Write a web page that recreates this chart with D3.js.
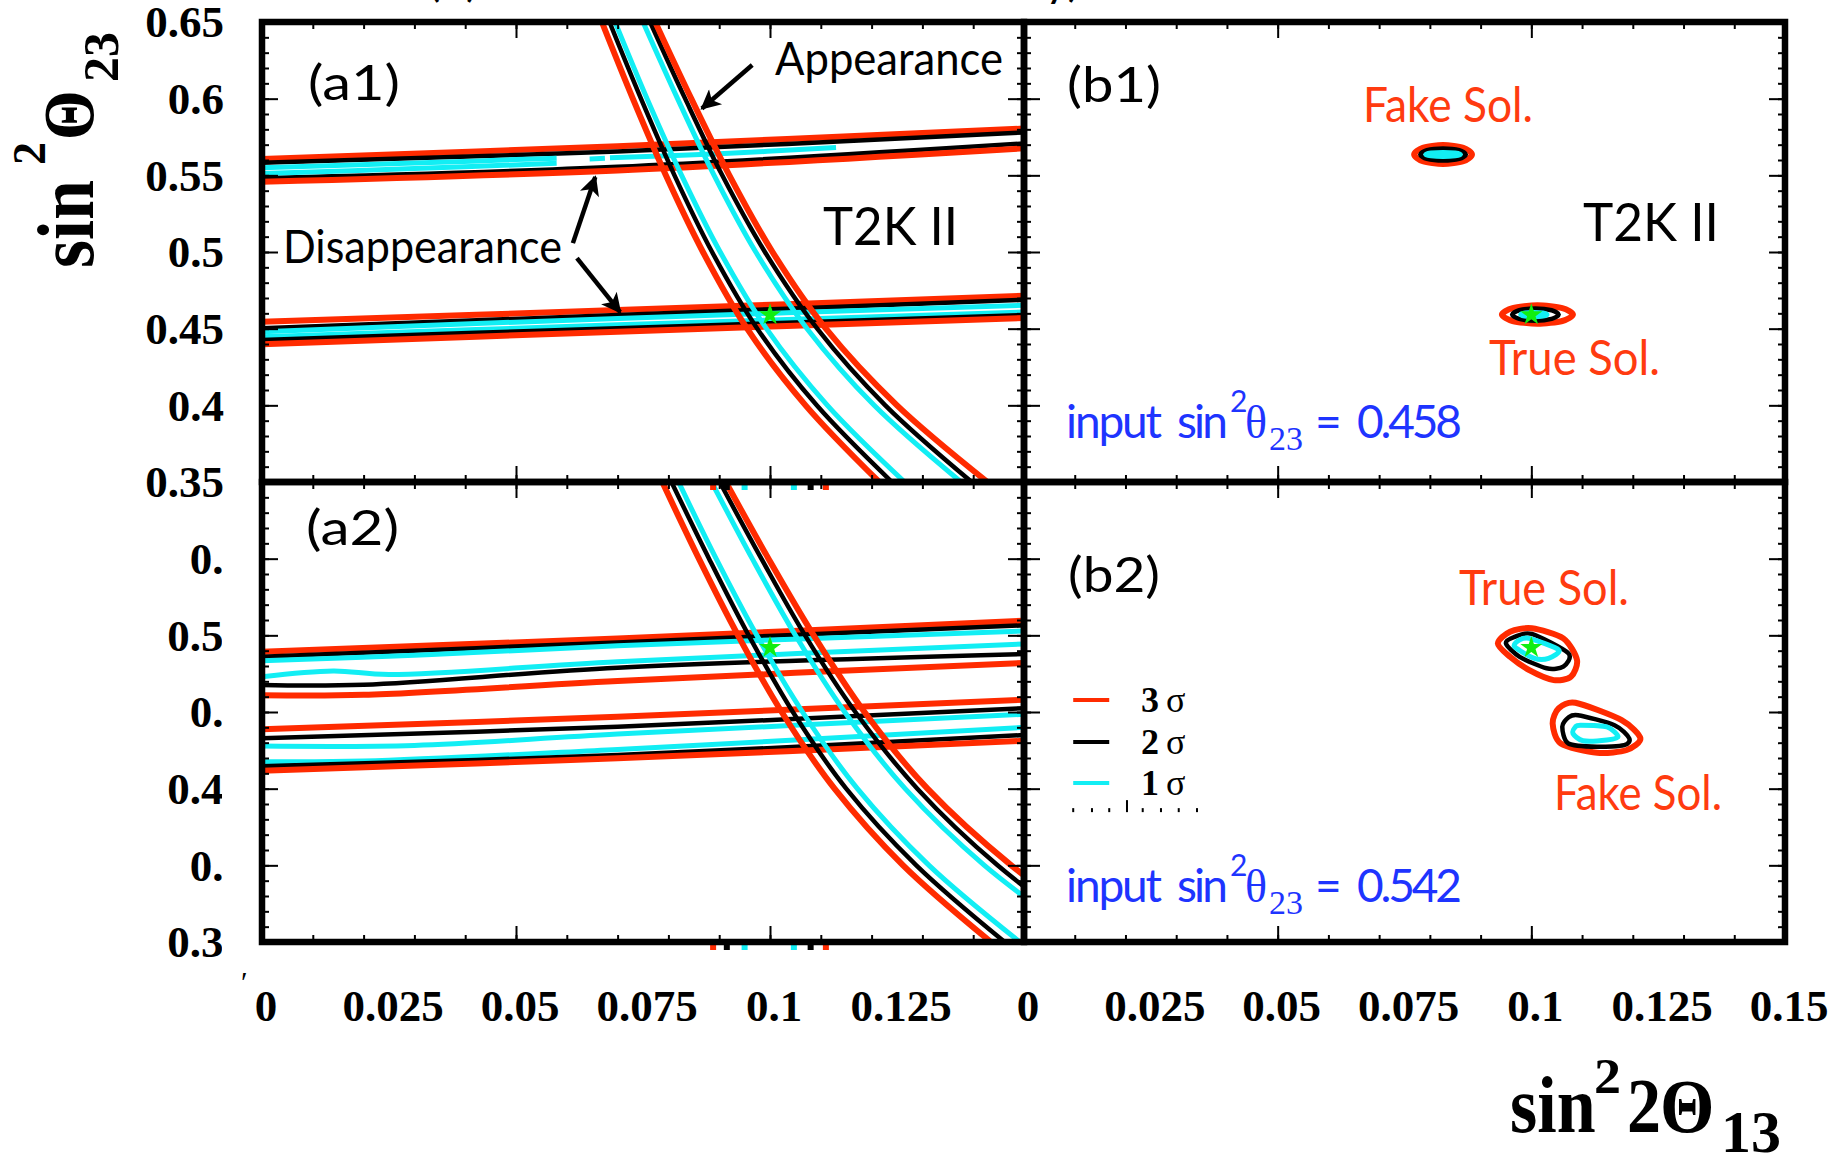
<!DOCTYPE html>
<html>
<head>
<meta charset="utf-8">
<script src="https://cdn.jsdelivr.net/npm/d3@7"></script>
<style>
body { margin: 0; background: #fff; }
svg { display: block; }
</style>
</head>
<body>
<svg id="chart" width="1846" height="1161"></svg>
<script>
// ---------- data ----------
const xTickValues = [0, 0.025, 0.05, 0.075, 0.1, 0.125, 0.15];
const xTickLabels = ['0', '0.025', '0.05', '0.075', '0.1', '0.125', '0.15'];
const yTickValues = [0.35, 0.4, 0.45, 0.5, 0.55, 0.6, 0.65];
const yTickLabels = ['0.35', '0.4', '0.45', '0.5', '0.55', '0.6', '0.65'];
const legendLevels = [3, 2, 1];
const legendNames = ['3', '2', '1'];

// appearance bands are read at fixed sin^2(theta23) rows
const appearanceY = [0.65, 0.60, 0.55, 0.50, 0.45, 0.40, 0.35];

// (a1) appearance, x positions for each row
const a1App = [
  {lvl: 3, xs: [0.0669, 0.0730, 0.0795, 0.0868, 0.0955, 0.1070, 0.1215]},
  {lvl: 2, xs: [0.0684, 0.0746, 0.0812, 0.0886, 0.0975, 0.1092, 0.1240]},
  {lvl: 1, xs: [0.0695, 0.0758, 0.0826, 0.0902, 0.0993, 0.1113, 0.1265]},
  {lvl: 1, xs: [0.0750, 0.0818, 0.0890, 0.0972, 0.1073, 0.1205, 0.1376]},
  {lvl: 2, xs: [0.0764, 0.0833, 0.0906, 0.0990, 0.1093, 0.1227, 0.1397]},
  {lvl: 3, xs: [0.0774, 0.0845, 0.0920, 0.1005, 0.1110, 0.1250, 0.1428]}
];

// (a2) appearance
const a2App = [
  {lvl: 3, xs: [0.0788, 0.0860, 0.0937, 0.1023, 0.1127, 0.1262, 0.1435]},
  {lvl: 2, xs: [0.0806, 0.0880, 0.0958, 0.1045, 0.1150, 0.1288, 0.1462]},
  {lvl: 1, xs: [0.0820, 0.0894, 0.0974, 0.1064, 0.1172, 0.1313, 0.1492]},
  {lvl: 1, xs: [0.0885, 0.0965, 0.1050, 0.1147, 0.1266, 0.1422, 0.1624]},
  {lvl: 2, xs: [0.0901, 0.0983, 0.1069, 0.1168, 0.1290, 0.1448, 0.1648]},
  {lvl: 3, xs: [0.0913, 0.0997, 0.1086, 0.1186, 0.1310, 0.1475, 0.1685]}
];

// (a1) disappearance bands
const a1Dis = [
  {lvl: 3, pts: [[0, 0.5606], [0.07, 0.5690], [0.15, 0.5805]]},
  {lvl: 2, pts: [[0, 0.5582], [0.07, 0.5656], [0.15, 0.5780]]},
  {lvl: 2, pts: [[0, 0.5482], [0.07, 0.5556], [0.15, 0.5708]]},
  {lvl: 3, pts: [[0, 0.5458], [0.07, 0.5532], [0.15, 0.5676]]},
  {lvl: 1, pts: [[0, 0.5550], [0.03, 0.5580], [0.058, 0.5612]]},
  {lvl: 1, pts: [[0, 0.5512], [0.03, 0.5544], [0.058, 0.5578]]},
  {lvl: 1, pts: [[0.0645, 0.5607], [0.0675, 0.5611]]},
  {lvl: 1, pts: [[0.0685, 0.5614], [0.09, 0.5640], [0.113, 0.5682]]},
  {lvl: 3, pts: [[0, 0.4545], [0.07, 0.4621], [0.15, 0.4715]]},
  {lvl: 2, pts: [[0, 0.4502], [0.07, 0.4589], [0.15, 0.4688]]},
  {lvl: 1, pts: [[0, 0.4480], [0.07, 0.4567], [0.15, 0.4652]]},
  {lvl: 1, pts: [[0, 0.4447], [0.07, 0.4525], [0.15, 0.4608]]},
  {lvl: 2, pts: [[0, 0.4426], [0.07, 0.4503], [0.15, 0.4588]]},
  {lvl: 3, pts: [[0, 0.4398], [0.07, 0.4480], [0.15, 0.4569]]}
];

// (a2) disappearance bands
const a2Dis = [
  {lvl: 3, pts: [[0, 0.5393], [0.07, 0.5480], [0.15, 0.5595]]},
  {lvl: 2, pts: [[0, 0.5360], [0.07, 0.5454], [0.15, 0.5565]]},
  {lvl: 1, pts: [[0, 0.5334], [0.03, 0.5370], [0.07, 0.5432], [0.15, 0.5528]]},
  {lvl: 1, pts: [[0, 0.5230], [0.014, 0.5268], [0.025, 0.5245], [0.07, 0.5328], [0.15, 0.5444]]},
  {lvl: 2, pts: [[0, 0.5176], [0.02, 0.5178], [0.07, 0.5289], [0.15, 0.5378]]},
  {lvl: 3, pts: [[0, 0.5110], [0.02, 0.5112], [0.07, 0.5202], [0.15, 0.5320]]},
  {lvl: 3, pts: [[0, 0.4887], [0.07, 0.4969], [0.15, 0.5080]]},
  {lvl: 2, pts: [[0, 0.4828], [0.07, 0.4904], [0.15, 0.5025]]},
  {lvl: 1, pts: [[0, 0.4778], [0.03, 0.4782], [0.07, 0.4856], [0.15, 0.4985]]},
  {lvl: 1, pts: [[0, 0.4676], [0.02, 0.4680], [0.07, 0.4756], [0.15, 0.4900]]},
  {lvl: 2, pts: [[0, 0.4647], [0.07, 0.4719], [0.15, 0.4850]]},
  {lvl: 3, pts: [[0, 0.4617], [0.07, 0.4698], [0.15, 0.4812]]}
];

// (b1) closed contours: fake and true solutions
const b1Fake = [
  {lvl: 3, pts: [[0.0769, 0.5636], [0.0786, 0.5680], [0.0826, 0.5698], [0.0866, 0.5680], [0.0883, 0.5636], [0.0866, 0.5592], [0.0826, 0.5574], [0.0786, 0.5592]]},
  {lvl: 2, pts: [[0.0781, 0.5636], [0.0794, 0.5664], [0.0826, 0.5675], [0.0858, 0.5664], [0.0871, 0.5636], [0.0858, 0.5608], [0.0826, 0.5597], [0.0794, 0.5608]]},
  {lvl: 1, pts: [[0.0792, 0.5636], [0.0802, 0.5645], [0.0826, 0.5649], [0.0850, 0.5645], [0.0860, 0.5636], [0.0850, 0.5627], [0.0826, 0.5623], [0.0802, 0.5627]]}
];
const b1True = [
  {lvl: 3, pts: [[0.0942, 0.4592], [0.0963, 0.4634], [0.1012, 0.4652], [0.1061, 0.4634], [0.1082, 0.4592], [0.1061, 0.4550], [0.1012, 0.4532], [0.0963, 0.4550]]},
  {lvl: 2, pts: [[0.0962, 0.4592], [0.0976, 0.4620], [0.1008, 0.4632], [0.1040, 0.4620], [0.1054, 0.4592], [0.1040, 0.4564], [0.1008, 0.4552], [0.0976, 0.4564]]},
  {lvl: 1, pts: [[0.0979, 0.4592], [0.0987, 0.4602], [0.1005, 0.4606], [0.1023, 0.4602], [0.1031, 0.4592], [0.1023, 0.4582], [0.1005, 0.4578], [0.0987, 0.4582]]}
];

// (b2) closed contours
const b2True = [
  {lvl: 3, pts: [[0.1001, 0.5546], [0.1063, 0.5480], [0.1090, 0.5339], [0.1078, 0.5230], [0.1044, 0.5208], [0.0996, 0.5273], [0.0958, 0.5360], [0.0934, 0.5447], [0.0958, 0.5524]]},
  {lvl: 2, pts: [[0.1001, 0.5509], [0.1073, 0.5383], [0.1063, 0.5296], [0.1030, 0.5285], [0.0977, 0.5360], [0.0950, 0.5447], [0.0967, 0.5490]]},
  {lvl: 1, pts: [[0.0996, 0.5480], [0.1054, 0.5405], [0.1034, 0.5350], [0.1006, 0.5350], [0.0967, 0.5426], [0.0977, 0.5470]]}
];
const b2Fake = [
  {lvl: 3, pts: [[0.1087, 0.5060], [0.1178, 0.4947], [0.1215, 0.4828], [0.1188, 0.4752], [0.1130, 0.4734], [0.1058, 0.4795], [0.1042, 0.4926], [0.1054, 0.5024]]},
  {lvl: 2, pts: [[0.1092, 0.4979], [0.1164, 0.4914], [0.1193, 0.4828], [0.1183, 0.4784], [0.1130, 0.4773], [0.1073, 0.4795], [0.1061, 0.4904], [0.1073, 0.4964]]},
  {lvl: 1, pts: [[0.1097, 0.4914], [0.1149, 0.4903], [0.1171, 0.4838], [0.1149, 0.4817], [0.1102, 0.4812], [0.1082, 0.4860], [0.1087, 0.4903]]}
];

// input points (green stars)
const starA1 = [0.1, 0.459];
const starA2 = [0.1, 0.542];
const starB1 = [0.1, 0.459];
const starB2 = [0.1, 0.542];

// small coloured marks sitting on the frame of (a2)
const frameMarkX = [0.0888, 0.0915, 0.0950, 0.1047, 0.1080, 0.1110];
const frameMarkLvl = [3, 2, 1, 1, 2, 3];

// legend rows (b2) and the dotted row under it
const legendLineX = [0.0097, 0.0168];
const legendRowY = [0.5078, 0.4804, 0.4537];
const legendDotX = [0.0097, 0.0134, 0.0168, 0.0203, 0.0234, 0.0270, 0.0305, 0.0341];
const legendDotY = 0.436;

// arrows in (a1): [from, to]
const arrows = [
  [[0.0965, 0.622], [0.0866, 0.5936]],
  [[0.0612, 0.5058], [0.0656, 0.5489]],
  [[0.0620, 0.4960], [0.0705, 0.4608]]
];

// ---------- drawing ----------
const colorOf = {3: '#ff2b00', 2: '#000000', 1: '#12eef4'};
const widthOf = {3: 6, 2: 4.5, 1: 5};
const serif = '"Liberation Serif", "DejaVu Serif", serif';
const sans = 'Lato, "Open Sans", sans-serif';

const svg = d3.select('#chart');
const defs = svg.append('defs');

const L = 262, M = 1024, R = 1785, T = 22, C = 482, B = 942;
const panels = [
  {name: 'a1', left: L, right: M, top: T, bottom: C},
  {name: 'b1', left: M, right: R, top: T, bottom: C},
  {name: 'a2', left: L, right: M, top: C, bottom: B},
  {name: 'b2', left: M, right: R, top: C, bottom: B}
];
panels.forEach(p => {
  p.x = d3.scaleLinear().domain([0, 0.15]).range([p.left, p.right]);
  p.y = d3.scaleLinear().domain([0.35, 0.65]).range([p.bottom, p.top]);
  defs.append('clipPath').attr('id', 'clip-' + p.name)
    .append('rect')
    .attr('x', p.left).attr('y', p.top)
    .attr('width', p.right - p.left).attr('height', p.bottom - p.top);
  p.g = svg.append('g').attr('clip-path', `url(#clip-${p.name})`);
});
const [pA1, pB1, pA2, pB2] = panels;

defs.append('marker')
  .attr('id', 'head')
  .attr('viewBox', '0 0 10 10')
  .attr('refX', 9).attr('refY', 5)
  .attr('markerUnits', 'userSpaceOnUse')
  .attr('markerWidth', 24).attr('markerHeight', 20)
  .attr('orient', 'auto')
  .append('path').attr('d', 'M0,0 L10,5 L0,10 L2.5,5 Z').attr('fill', '#000');

function drawOpen(p, lines) {
  const line = d3.line().x(d => p.x(d[0])).y(d => p.y(d[1])).curve(d3.curveCatmullRom.alpha(0.5));
  lines.forEach(l => {
    p.g.append('path')
      .attr('d', line(l.pts))
      .attr('fill', 'none')
      .attr('stroke', colorOf[l.lvl])
      .attr('stroke-width', widthOf[l.lvl])
      .attr('stroke-linejoin', 'round');
  });
}

function drawClosed(p, lines) {
  const line = d3.line().x(d => p.x(d[0])).y(d => p.y(d[1])).curve(d3.curveCardinalClosed.tension(0.2));
  lines.forEach(l => {
    p.g.append('path')
      .attr('d', line(l.pts))
      .attr('fill', 'none')
      .attr('stroke', colorOf[l.lvl])
      .attr('stroke-width', widthOf[l.lvl]);
  });
}

function appLines(rows) {
  return rows.map(r => ({lvl: r.lvl, pts: r.xs.map((x, i) => [x, appearanceY[i]])}));
}

function drawStar(p, s) {
  p.g.append('path')
    .attr('d', d3.symbol(d3.symbolStar).size(150)())
    .attr('transform', `translate(${p.x(s[0])},${p.y(s[1])})`)
    .attr('fill', '#11ee11');
}

drawOpen(pA1, a1Dis);
drawOpen(pA1, appLines(a1App));
drawStar(pA1, starA1);

drawOpen(pA2, a2Dis);
drawOpen(pA2, appLines(a2App));
drawStar(pA2, starA2);

drawClosed(pB1, b1Fake);
drawClosed(pB1, b1True);
drawStar(pB1, starB1);

drawClosed(pB2, b2True);
drawClosed(pB2, b2Fake);
drawStar(pB2, starB2);

// frame marks of (a2)
[pA2.top, pA2.bottom].forEach(edge => {
  frameMarkX.forEach((v, i) => {
    svg.append('rect')
      .attr('x', pA2.x(v) - 3).attr('y', edge + 2)
      .attr('width', 6).attr('height', 6)
      .attr('fill', colorOf[frameMarkLvl[i]]);
  });
});

// ticks on every side, pointing inside
panels.forEach(p => {
  const major = [0, 0.05, 0.1, 0.15];
  const minorX = d3.range(0, 0.1501, 0.01);
  const minorY = d3.range(0.35, 0.6501, 0.01);
  const addAxis = (axis, tr) => {
    const a = svg.append('g').attr('transform', tr).call(axis);
    a.select('.domain').remove();
    a.selectAll('text').remove();
    a.selectAll('line').attr('stroke', '#000').attr('stroke-width', 2);
  };
  [[major, 16], [minorX, 7]].forEach(([vals, len]) => {
    addAxis(d3.axisBottom(p.x).tickValues(vals).tickSize(-len), `translate(0,${p.bottom})`);
    addAxis(d3.axisTop(p.x).tickValues(vals).tickSize(-len), `translate(0,${p.top})`);
  });
  [[yTickValues, 16], [minorY, 7]].forEach(([vals, len]) => {
    addAxis(d3.axisLeft(p.y).tickValues(vals).tickSize(-len), `translate(${p.left},0)`);
    addAxis(d3.axisRight(p.y).tickValues(vals).tickSize(-len), `translate(${p.right},0)`);
  });
});

// frames
panels.forEach(p => {
  svg.append('rect')
    .attr('x', p.left).attr('y', p.top)
    .attr('width', p.right - p.left).attr('height', p.bottom - p.top)
    .attr('fill', 'none').attr('stroke', '#000').attr('stroke-width', 6.5);
});

// y tick labels: (a1) complete, (a2) clipped at the left margin
yTickValues.forEach((v, i) => {
  svg.append('text')
    .attr('x', 224).attr('y', pA1.y(v)).attr('dy', '0.34em')
    .attr('text-anchor', 'end')
    .attr('font-family', serif).attr('font-weight', 'bold').attr('font-size', 45)
    .text(yTickLabels[i]);
});
defs.append('clipPath').attr('id', 'clip-ylab')
  .append('rect').attr('x', 0).attr('y', C + 30).attr('width', 222).attr('height', 500);
const ylab2 = svg.append('g').attr('clip-path', 'url(#clip-ylab)');
yTickValues.slice(0, 6).forEach((v, i) => {
  ylab2.append('text')
    .attr('x', 246).attr('y', pA2.y(v)).attr('dy', '0.34em')
    .attr('text-anchor', 'end')
    .attr('font-family', serif).attr('font-weight', 'bold').attr('font-size', 45)
    .text(yTickLabels[i]);
});
svg.append('text').attr('x', 241).attr('y', 992)
  .attr('font-family', serif).attr('font-size', 30).text('\u2032');

// x tick labels under the bottom row
[[pA2, xTickValues.slice(0, 6)], [pB2, xTickValues]].forEach(([p, vals]) => {
  vals.forEach(v => {
    svg.append('text')
      .attr('x', p.x(v) + 4).attr('y', 1021)
      .attr('text-anchor', 'middle')
      .attr('font-family', serif).attr('font-weight', 'bold').attr('font-size', 45)
      .text(xTickLabels[xTickValues.indexOf(v)]);
  });
});

// axis titles, glyphs a little taller than the plain font
const titlePiece = (g, x, y, txt, size, sy) => {
  g.append('text')
    .attr('transform', `translate(${x},${y}) scale(1,${sy})`)
    .attr('font-family', serif).attr('font-weight', 'bold').attr('font-size', size)
    .text(txt);
};
const xt = svg.append('g');
titlePiece(xt, 1510, 1132, 'sin', 70, 1.15);
titlePiece(xt, 1594, 1093, '2', 54, 0.95);
titlePiece(xt, 1627, 1132, '2', 68, 1.15);
titlePiece(xt, 1660, 1132, '\u0398', 70, 1.1);
titlePiece(xt, 1721, 1152, '13', 60, 1.0);

const yt = svg.append('g').attr('transform', 'translate(93,268) rotate(-90)');
titlePiece(yt, 0, 0, 'sin', 72, 1.12);
titlePiece(yt, 103, -48, '2', 46, 1.0);
titlePiece(yt, 128, 0, '\u0398', 64, 1.12);
titlePiece(yt, 186, 25, '23', 50, 1.0);

// annotations
const label = (x, y, txt, size, color, len) => {
  const t = svg.append('text')
    .attr('x', x).attr('y', y)
    .attr('font-family', sans).attr('font-size', size)
    .attr('fill', color || '#000')
    .text(txt);
  if (len) t.attr('textLength', len).attr('lengthAdjust', 'spacingAndGlyphs');
  return t;
};
label(308, 100, '(a1)', 48, '#000', 92);
label(306, 545, '(a2)', 48, '#000', 93);
label(1067, 102, '(b1)', 48, '#000', 94);
label(1068, 592, '(b2)', 48, '#000', 92);
label(775, 75, 'Appearance', 46, '#000', 228);
label(283, 263, 'Disappearance', 46, '#000', 279);
label(823, 245, 'T2K II', 52, '#000', 135);
label(1583, 241, 'T2K II', 52, '#000', 136);
label(1363, 122, 'Fake Sol.', 48, '#ff3b10', 170);
label(1489, 375, 'True Sol.', 48, '#ff3b10', 171);
label(1459, 605, 'True Sol.', 48, '#ff3b10', 170);
label(1554, 810, 'Fake Sol.', 48, '#ff3b10', 168);

arrows.forEach(([a, b]) => {
  svg.append('line')
    .attr('x1', pA1.x(a[0])).attr('y1', pA1.y(a[1]))
    .attr('x2', pA1.x(b[0])).attr('y2', pA1.y(b[1]))
    .attr('stroke', '#000').attr('stroke-width', 4.5)
    .attr('marker-end', 'url(#head)');
});

// input lines in (b1) and (b2)
const inputText = (base, value) => {
  const t = svg.append('text').attr('font-size', 46).attr('fill', '#1e34ff').attr('y', base);
  t.append('tspan').attr('x', 1066).attr('font-family', sans).attr('textLength', 96).text('input');
  t.append('tspan').attr('x', 1177).attr('font-family', sans).attr('textLength', 51).text('sin');
  t.append('tspan').attr('x', 1230).attr('y', base - 26).attr('font-family', sans).attr('font-size', 30).text('2');
  t.append('tspan').attr('x', 1245).attr('y', base).attr('font-family', serif).attr('font-size', 46).text('\u03b8');
  t.append('tspan').attr('x', 1269).attr('y', base + 12).attr('font-family', serif).attr('font-size', 34).text('23');
  t.append('tspan').attr('x', 1315).attr('y', base).attr('font-family', sans).text('=');
  t.append('tspan').attr('x', 1357).attr('font-family', sans).attr('textLength', 105).text(value);
};
inputText(438, '0.458');
inputText(902, '0.542');

// legend in (b2)
legendLevels.forEach((lvl, i) => {
  svg.append('line')
    .attr('x1', pB2.x(legendLineX[0])).attr('x2', pB2.x(legendLineX[1]))
    .attr('y1', pB2.y(legendRowY[i])).attr('y2', pB2.y(legendRowY[i]))
    .attr('stroke', colorOf[lvl]).attr('stroke-width', 4);
  const t = svg.append('text').attr('x', 1141).attr('y', pB2.y(legendRowY[i]) + 12)
    .attr('font-family', serif).attr('font-size', 36);
  t.append('tspan').attr('font-weight', 'bold').text(legendNames[i]);
  t.append('tspan').attr('x', 1166).text('\u03c3');
});
legendDotX.forEach((v, i) => {
  svg.append('rect')
    .attr('x', pB2.x(v) - 1).attr('y', pB2.y(legendDotY) - (i === 3 ? 10 : 2))
    .attr('width', 2).attr('height', i === 3 ? 12 : 4)
    .attr('fill', '#000');
});

// pieces of a title cut off by the top edge
label(428, -4, '(', 46, '#000');
label(466, -4, ')', 46, '#000');
label(1045, -4, 'y)', 46, '#000');
</script>
</body>
</html>
